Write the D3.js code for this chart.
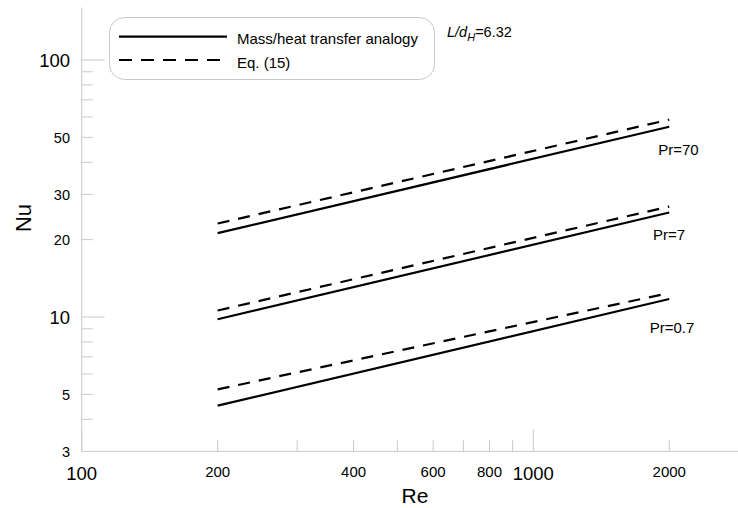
<!DOCTYPE html>
<html><head><meta charset="utf-8">
<script src="https://cdn.jsdelivr.net/npm/d3@7"></script>
<style>body{margin:0;background:#fff}svg{display:block;font-family:"Liberation Sans",Arial,sans-serif}</style>
</head><body>
<svg id="c" width="738" height="508"></svg>
<script>
const reValues = [200, 2000];
const series = [
  {pr: "Pr=70",  analogy: [21.2, 55.0], eq15: [23.1, 58.6]},
  {pr: "Pr=7",   analogy: [9.8, 25.5],  eq15: [10.6, 26.9]},
  {pr: "Pr=0.7", analogy: [4.52, 11.75], eq15: [5.23, 12.4]}
];
const prLabelAnchor = [{re: 1890, nu: 42.7}, {re: 1840, nu: 19.9}, {re: 1810, nu: 8.67}];
const xMajorTicks = [100, 1000];
const xMinorTicks = [200, 300, 400, 500, 600, 700, 800, 900, 2000];
const xSmallLabels = [200, 400, 600, 800, 2000];
const yMajorTicks = [10, 100];
const yMinorTicks = [4, 5, 6, 7, 8, 9, 20, 30, 40, 50, 60, 70, 80, 90];
const yBigLabels = [10, 100];
const ySmallLabels = [3, 5, 20, 30, 50];

const svg = d3.select("#c");
const x = d3.scaleLog().domain([100, 1000]).range([81.7, 533.3]);
const y = d3.scaleLog().domain([10, 100]).range([317, 60]);
const x0 = x(100), y0 = y(3), yTop = y(160);
const axisCol = "#c8c8c8";

// axes lines
svg.append("line").attr("x1", x0).attr("x2", 738).attr("y1", y0).attr("y2", y0).attr("stroke", axisCol);
svg.append("line").attr("x1", x0).attr("x2", x0).attr("y1", yTop).attr("y2", y0).attr("stroke", axisCol);

// x ticks
xMinorTicks.forEach(v => svg.append("line").attr("x1", x(v)).attr("x2", x(v)).attr("y1", y0).attr("y2", y0 - 11).attr("stroke", axisCol));
xMajorTicks.forEach(v => svg.append("line").attr("x1", x(v)).attr("x2", x(v)).attr("y1", y0).attr("y2", y0 - 22).attr("stroke", axisCol));
xMajorTicks.forEach(v => svg.append("text").attr("x", x(v)).attr("y", 480).attr("text-anchor", "middle").attr("font-size", 18.5).text(v));
xSmallLabels.forEach(v => svg.append("text").attr("x", x(v)).attr("y", 477).attr("text-anchor", "middle").attr("font-size", 15).text(v));

// y ticks
yMinorTicks.forEach(v => svg.append("line").attr("x1", x0).attr("x2", x0 + 11).attr("y1", y(v)).attr("y2", y(v)).attr("stroke", axisCol));
yMajorTicks.forEach(v => svg.append("line").attr("x1", x0).attr("x2", x0 + 23).attr("y1", y(v)).attr("y2", y(v)).attr("stroke", axisCol));
yBigLabels.forEach(v => svg.append("text").attr("x", 70).attr("y", y(v)).attr("dy", "0.36em").attr("text-anchor", "end").attr("font-size", 18.5).text(v));
ySmallLabels.forEach(v => svg.append("text").attr("x", 70).attr("y", y(v)).attr("dy", "0.36em").attr("text-anchor", "end").attr("font-size", 14.5).text(v));

// axis titles
svg.append("text").attr("x", 415).attr("y", 503).attr("text-anchor", "middle").attr("font-size", 21).text("Re");
svg.append("text").attr("transform", "translate(31,218) rotate(-90)").attr("text-anchor", "middle").attr("font-size", 22).text("Nu");

// lines
const line = d3.line().x((d, i) => x(reValues[i])).y(d => y(d));
series.forEach((s, k) => {
  svg.append("path").attr("d", line(s.analogy)).attr("fill", "none").attr("stroke", "#000").attr("stroke-width", 2.2);
  svg.append("path").attr("d", line(s.eq15)).attr("fill", "none").attr("stroke", "#000").attr("stroke-width", 2.2).attr("stroke-dasharray", "12,9");
  const a = prLabelAnchor[k];
  svg.append("text").attr("x", x(a.re)).attr("y", y(a.nu)).attr("font-size", 15).text(s.pr);
});

// legend
svg.append("rect").attr("x", 109.5).attr("y", 17.5).attr("width", 325).attr("height", 62).attr("rx", 15).attr("ry", 15)
  .attr("fill", "#fff").attr("stroke", "#c8c8c8");
svg.append("line").attr("x1", 119).attr("x2", 227).attr("y1", 36.7).attr("y2", 36.7).attr("stroke", "#000").attr("stroke-width", 2.2);
svg.append("line").attr("x1", 119).attr("x2", 227).attr("y1", 60).attr("y2", 60).attr("stroke", "#000").attr("stroke-width", 2.2).attr("stroke-dasharray", "13,9");
svg.append("text").attr("x", 237).attr("y", 44).attr("font-size", 15).text("Mass/heat transfer analogy");
svg.append("text").attr("x", 237).attr("y", 68).attr("font-size", 15).text("Eq. (15)");

// annotation
const ann = svg.append("text").attr("x", 447).attr("y", 37).attr("font-size", 14.5);
ann.append("tspan").attr("font-style", "italic").text("L/d");
ann.append("tspan").attr("font-style", "italic").attr("font-size", 11).attr("dy", 4).text("H");
ann.append("tspan").attr("dy", -4).text("=6.32");
</script>
</body></html>
